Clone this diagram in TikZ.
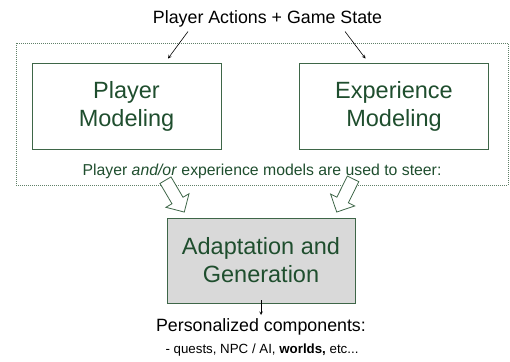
\documentclass[tikz,border=0pt]{standalone}
\usepackage{fontspec}
\setmainfont{Liberation Sans}
\usepackage{tikz}
\usetikzlibrary{shapes.arrows, arrows, backgrounds, positioning}
\definecolor{modelgreen}{RGB}{31,78,46}
\definecolor{edgegreen}{RGB}{62,102,72}
\definecolor{framegreen}{RGB}{96,128,104}
\definecolor{adaptgray}{RGB}{217,217,217}
\tikzstyle{model}   = [rectangle, minimum width=189pt, minimum height=86pt, align=center, draw=edgegreen, line width=0.9pt, text=modelgreen, font=\fontsize{23.5}{28}\selectfont]
\tikzstyle{adapt}   = [model, fill=adaptgray, minimum width=188pt, minimum height=85pt]
\tikzstyle{caption} = [inner sep=0pt, text=black, font=\fontsize{17.8}{21}\selectfont]
\tikzstyle{frame}   = [draw=framegreen, line width=0.9pt, dash pattern=on 1pt off 1pt]
\tikzstyle{steer}   = [single arrow, draw=edgegreen, fill=white, line width=0.8pt, inner sep=6pt, single arrow head extend=7pt, minimum height=37pt, sloped, allow upside down]
\tikzstyle{arrow}   = [line width=0.6pt,->,>=stealth]

\begin{document}
\begin{tikzpicture}[x=1pt, y=-1pt]
    \useasboundingbox (0,0) rectangle (510,361);
    % Nodes
    \node (inputs)              [caption, anchor=base] at (267.5,23.5)                {Player Actions + Game State};
    \node (player_modeling)     [model] at (126.5,106)                                 {Player\\Modeling};
    \node (experience_modeling) [model, right of=player_modeling, node distance=267.5pt] {Experience\\Modeling};
    \node (steer_note)          [caption, anchor=base, text=modelgreen, font=\fontsize{15.8}{19}\selectfont] at (262,175.5) {Player \textit{and/or} experience models are used to steer:};
    \node (adaptation)          [adapt] at (261,260.5)                                 {Adaptation and\\Generation};
    \node (components)          [caption, anchor=base] at (261,331)                   {Personalized components:};
    \node (examples)            [caption, anchor=base, font=\fontsize{13.3}{16}\selectfont] at (262,353) {- quests, NPC / AI, \textbf{worlds,} etc...};

    % Frame around the models
    \begin{pgfonlayer}{background}
      \draw [frame] (16,43) rectangle (508,185);
    \end{pgfonlayer}

    % Arrows
    \coordinate (left_tail)  at (166,181);
    \coordinate (right_tail) at (352,181);
    \draw [arrow] ([xshift=-79.5pt,yshift=-8pt]inputs.base) -- ([xshift=41.5pt,yshift=4pt]player_modeling.north);
    \draw [arrow] ([xshift=77.5pt,yshift=-8pt]inputs.base)  -- ([xshift=-28.5pt,yshift=4pt]experience_modeling.north);
    \path (left_tail)  -- ([xshift=18pt,yshift=5pt]adaptation.north west)  node [steer, pos=1, anchor=tip] {};
    \path (right_tail) -- ([xshift=-19pt,yshift=5pt]adaptation.north east) node [steer, pos=1, anchor=tip] {};
    \draw [arrow] ([yshift=3pt]adaptation.south) -- ([yshift=16pt]components.base);
  \end{tikzpicture}
\end{document}
